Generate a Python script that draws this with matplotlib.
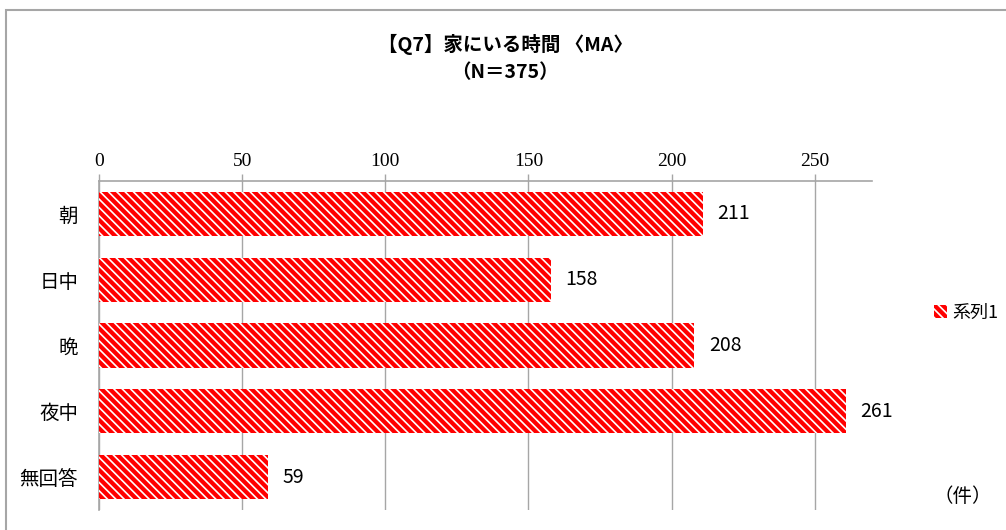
import matplotlib
matplotlib.use("Agg")
import matplotlib.pyplot as plt
from matplotlib.patches import Rectangle, Patch

plt.rcParams['font.family'] = ['Noto Sans CJK JP', 'DejaVu Sans']
plt.rcParams['hatch.linewidth'] = 1.2

categories = ['朝', '日中', '晩', '夜中', '無回答']
values = [211, 158, 208, 261, 59]
xticks = [0, 50, 100, 150, 200, 250]
series_name = '系列1'

HATCH = '\\' * 4

fig = plt.figure(figsize=(10.06, 5.30), dpi=100)
fig.patches.append(Rectangle((6/1006, -0.1), 1.2, 1 - 10/530 + 0.1, transform=fig.transFigure,
                             fill=False, edgecolor='#a6a6a6', linewidth=1.5))

ax = fig.add_axes([99/1006, 1 - 510/530, (872 - 99)/1006, (510 - 181)/530])
y = list(range(len(categories)))
bars = ax.barh(y, values, height=0.67, color='#ff0000', edgecolor='#ffffff',
               linewidth=0, hatch=HATCH, zorder=3)
ax.set_ylim(len(categories) - 0.5, -0.5)
ax.set_xlim(0, 270)
ax.xaxis.tick_top()
ax.set_xticks(xticks)
ax.set_xticklabels([str(t) for t in xticks], family=['Liberation Serif'], fontsize=14)
ax.tick_params(axis='x', length=5, color='#a6a6a6', width=1, pad=3)
ax.set_yticks(y)
ax.set_yticklabels(categories, fontsize=14)
ax.tick_params(axis='y', length=0, pad=15)
ax.grid(axis='x', color='#a6a6a6', linewidth=1, zorder=0)
for s in ['right', 'bottom']:
    ax.spines[s].set_visible(False)
ax.spines['top'].set_color('#a6a6a6')
ax.spines['left'].set_color('#a6a6a6')
ax.spines['top'].set_linewidth(1.2)
ax.spines['left'].set_linewidth(1.2)

for yi, v in zip(y, values):
    ax.text(v + 5, yi, str(v), va='center', ha='left', fontsize=14, color='black')

fig.text(505/1006, 1 - 44/530, '【Q7】家にいる時間 〈MA〉', ha='center', va='center',
         fontsize=14, fontweight='bold')
fig.text(505/1006, 1 - 73/530, '（N＝375）', ha='center', va='center',
         fontsize=14, fontweight='bold')

handle = Patch(facecolor='#ff0000', edgecolor='#ffffff', linewidth=0, hatch=HATCH)
fig.legend([handle], [series_name], loc='center left', bbox_to_anchor=(918/1006, 1 - 313/530),
           frameon=False, fontsize=13, handlelength=0.7, handleheight=0.7, handletextpad=0.3)

fig.text(992/1006, 1 - 497/530, '（件）', ha='right', va='center', fontsize=14)

fig.savefig('out.png', dpi=100)
